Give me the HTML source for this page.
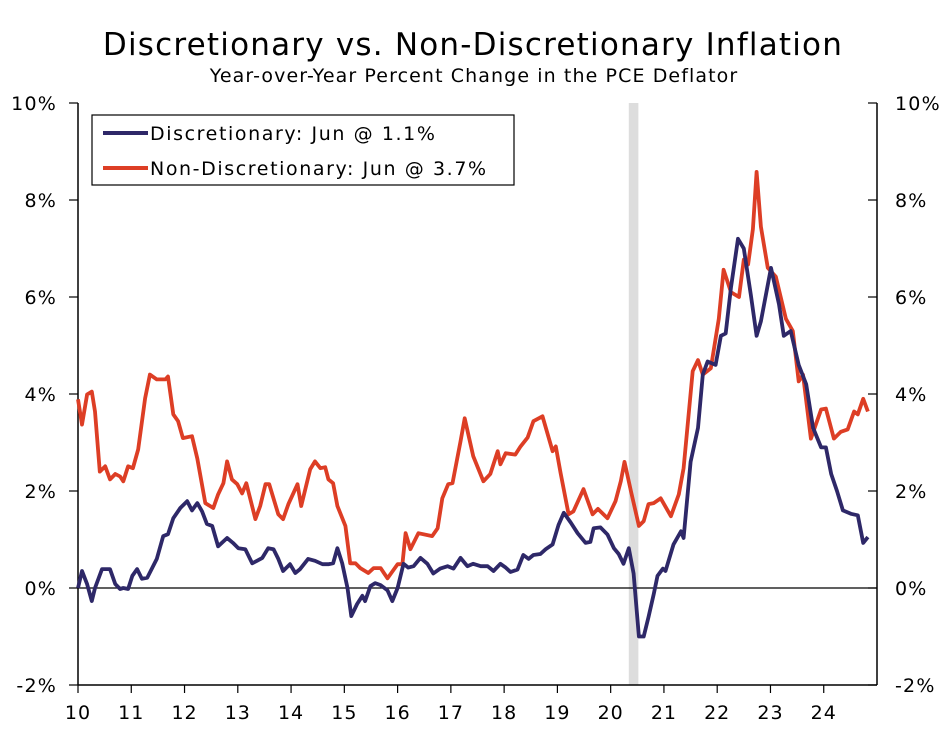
<!DOCTYPE html>
<html><head><meta charset="utf-8"><style>
body{margin:0;background:#fff;}
svg text{font-family:"DejaVu Sans","Liberation Sans",sans-serif;fill:#000;}
</style></head><body>
<svg id="chart" width="947" height="727" viewBox="0 0 947 727">
<text x="473" y="55" text-anchor="middle" font-size="31" letter-spacing="1.2">Discretionary vs. Non-Discretionary Inflation</text>
<text x="474" y="82" text-anchor="middle" font-size="19" letter-spacing="1.1">Year-over-Year Percent Change in the PCE Deflator</text>
<g id="grid"></g>
<g id="series"></g>
<g id="legend">
<rect x="92" y="115" width="422" height="70" fill="#fff" stroke="#000" stroke-width="1.2"/>
<line x1="103" y1="133" x2="148" y2="133" stroke="#2e2868" stroke-width="4"/>
<text x="150" y="140" font-size="19" letter-spacing="1.6">Discretionary: Jun @ 1.1%</text>
<line x1="103" y1="168" x2="148" y2="168" stroke="#dd3e25" stroke-width="4"/>
<text x="150" y="175" font-size="19" letter-spacing="1.6">Non-Discretionary: Jun @ 3.7%</text>
</g>
</svg>
<script>
const yTicks=[-2,0,2,4,6,8,10];
const xTickYears=[10,11,12,13,14,15,16,17,18,19,20,21,22,23,24];
const recession=[10.34,10.52];
const discYears=[0,.075,.17,.26,.32,.45,.60,.70,.79,.85,.94,1.02,1.11,1.20,1.30,1.48,1.60,1.69,1.79,1.92,2.05,2.14,2.24,2.33,2.42,2.52,2.63,2.80,2.91,3.01,3.14,3.27,3.36,3.46,3.57,3.67,3.76,3.85,3.98,4.08,4.17,4.32,4.45,4.59,4.70,4.79,4.87,4.96,5.06,5.13,5.24,5.34,5.39,5.49,5.58,5.68,5.81,5.90,6.00,6.11,6.20,6.30,6.43,6.56,6.67,6.80,6.94,7.05,7.18,7.31,7.42,7.56,7.69,7.80,7.93,8.03,8.12,8.25,8.36,8.46,8.55,8.68,8.78,8.91,9.02,9.12,9.25,9.38,9.53,9.62,9.68,9.81,9.94,10.06,10.15,10.24,10.34,10.43,10.53,10.62,10.71,10.81,10.88,10.98,11.03,11.18,11.32,11.37,11.50,11.64,11.73,11.82,11.97,12.07,12.16,12.26,12.39,12.50,12.63,12.74,12.82,13.01,13.16,13.25,13.38,13.53,13.67,13.80,13.95,14.04,14.14,14.25,14.36,14.51,14.64,14.74,14.83];
const discValues=[0,.35,.08,-.27,0,.39,.39,.08,-.02,0,-.02,.25,.39,.19,.21,.6,1.07,1.11,1.44,1.65,1.79,1.6,1.75,1.58,1.32,1.28,.86,1.03,.93,.82,.8,.51,.56,.62,.82,.8,.6,.35,.49,.31,.39,.6,.56,.49,.49,.51,.82,.51,0,-.58,-.33,-.16,-.27,.04,.1,.06,-.05,-.27,0,.5,.42,.45,.62,.5,.3,.4,.45,.4,.62,.45,.5,.45,.45,.35,.5,.42,.33,.38,.68,.6,.68,.7,.8,.9,1.3,1.55,1.35,1.13,.93,.95,1.23,1.25,1.1,.82,.7,.5,.82,.3,-1,-1,-.6,-.12,.25,.4,.35,.9,1.17,1.03,2.6,3.3,4.4,4.67,4.6,5.2,5.25,6.2,7.2,7.0,6.05,5.2,5.5,6.6,5.85,5.2,5.3,4.6,4.2,3.3,2.9,2.9,2.35,2.0,1.6,1.53,1.5,.93,1.05];
const nonDiscYears=[0,.075,.17,.26,.32,.41,.51,.60,.70,.79,.85,.94,1.03,1.13,1.26,1.35,1.48,1.64,1.69,1.79,1.88,1.97,2.14,2.24,2.39,2.54,2.63,2.73,2.80,2.89,2.99,3.08,3.16,3.33,3.42,3.52,3.59,3.76,3.85,3.95,4.12,4.19,4.36,4.45,4.55,4.64,4.70,4.79,4.87,5.02,5.11,5.21,5.30,5.45,5.55,5.68,5.81,6.00,6.09,6.15,6.24,6.39,6.65,6.75,6.84,6.95,7.03,7.18,7.26,7.42,7.61,7.74,7.88,7.93,8.03,8.21,8.31,8.44,8.55,8.72,8.91,8.97,9.06,9.21,9.30,9.49,9.66,9.76,9.94,10.09,10.19,10.26,10.38,10.53,10.62,10.71,10.81,10.94,11.13,11.28,11.37,11.54,11.64,11.73,11.88,12.03,12.12,12.26,12.41,12.50,12.58,12.67,12.74,12.82,12.95,13.10,13.29,13.42,13.53,13.61,13.76,13.95,14.04,14.19,14.32,14.45,14.57,14.64,14.74,14.83];
const nonDiscValues=[3.89,3.37,3.99,4.05,3.64,2.4,2.51,2.24,2.35,2.3,2.2,2.51,2.47,2.86,3.91,4.4,4.3,4.3,4.36,3.58,3.44,3.09,3.13,2.67,1.75,1.65,1.93,2.16,2.61,2.24,2.14,1.95,2.16,1.42,1.69,2.14,2.14,1.52,1.42,1.73,2.14,1.69,2.45,2.61,2.47,2.49,2.24,2.16,1.69,1.28,.51,.51,.41,.31,.41,.41,.2,.49,.49,1.13,.8,1.13,1.07,1.23,1.85,2.14,2.16,3.02,3.5,2.72,2.2,2.35,2.82,2.55,2.78,2.75,2.92,3.1,3.44,3.54,2.82,2.92,2.37,1.52,1.58,2.04,1.52,1.63,1.44,1.79,2.2,2.6,2.0,1.28,1.38,1.73,1.75,1.85,1.48,1.93,2.47,4.47,4.7,4.4,4.53,5.55,6.56,6.1,6.0,6.77,6.67,7.4,8.58,7.45,6.6,6.42,5.55,5.3,4.26,4.4,3.08,3.68,3.7,3.08,3.22,3.27,3.64,3.58,3.9,3.64];

const L=78,R=877,T=103,B=685;
const xs=t=>L+t*(R-L)/15;
const ys=v=>B-(v+2)*(B-T)/12;
const NS='http://www.w3.org/2000/svg';
const grid=document.getElementById('grid'),ser=document.getElementById('series');
function mk(tag,attrs,parent){const e=document.createElementNS(NS,tag);for(const k in attrs)e.setAttribute(k,attrs[k]);parent.appendChild(e);return e;}

let rb=mk('rect',{x:xs(recession[0]),y:T,width:xs(recession[1])-xs(recession[0]),height:B-T,fill:'#dddddd'},grid);



let la=mk('line',{x1:L,y1:T,x2:L,y2:B,stroke:'#000','stroke-width':1.5},grid);


let ra=mk('line',{x1:R,y1:T,x2:R,y2:B,stroke:'#000','stroke-width':1.5},grid);


let ba=mk('line',{x1:L,y1:B,x2:R,y2:B,stroke:'#000','stroke-width':1.5},grid);


let zl=mk('line',{x1:L,y1:ys(0),x2:R,y2:ys(0),stroke:'#000','stroke-width':1.2},grid);



yTicks.forEach(v=>{
  const y=ys(v);
  let t1=mk('line',{x1:L-9,y1:y,x2:L,y2:y,stroke:'#000','stroke-width':1.2},grid);
  
  
  let t2=mk('line',{x1:R-9,y1:y,x2:R,y2:y,stroke:'#000','stroke-width':1.2},grid);
  
  
  let l1=mk('text',{x:57,y:y+7,'text-anchor':'end','font-size':19,'letter-spacing':1.2},grid);l1.textContent=v+'%';
  
  
  let l2=mk('text',{x:895,y:y+7,'font-size':19,'letter-spacing':1.2},grid);l2.textContent=v+'%';
  
  
});
xTickYears.forEach((yr,i)=>{
  const x=xs(i);
  let t=mk('line',{x1:x,y1:B,x2:x,y2:B+8,stroke:'#000','stroke-width':1.2},grid);
  
  
  let l=mk('text',{x:x,y:B+34,'text-anchor':'middle','font-size':19,'letter-spacing':1},grid);l.textContent=yr;
  
  
});
function path(ts,vs){return ts.map((t,i)=>(i?'L':'M')+xs(t).toFixed(1)+','+ys(vs[i]).toFixed(1)).join('');}
let pr=mk('path',{d:path(nonDiscYears,nonDiscValues),fill:'none',stroke:'#dd3e25','stroke-width':3.8,'stroke-linejoin':'round'},ser);


let pb=mk('path',{d:path(discYears,discValues),fill:'none',stroke:'#2e2868','stroke-width':3.8,'stroke-linejoin':'round'},ser);


</script>
</body></html>
